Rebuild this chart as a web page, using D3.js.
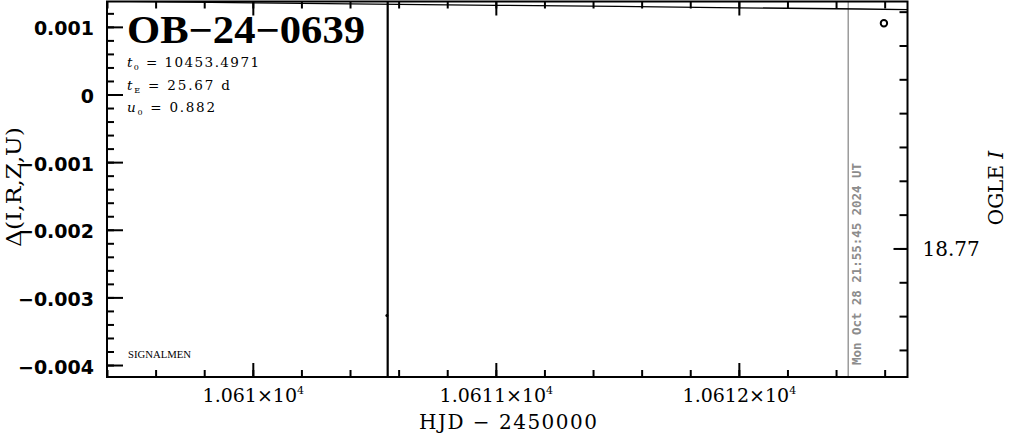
<!DOCTYPE html>
<html><head><meta charset="utf-8">
<script src="https://cdn.jsdelivr.net/npm/d3@7"></script>
<style>body{margin:0;background:#fff}svg{display:block;background:#fff}</style>
</head><body><svg id="c" width="1011" height="434"></svg>
<script>
// ---- data ----
const eventName = "OB\u221224\u22120639";
const paramNames = ["t", "t", "u"];
const paramSubs = ["0", "E", "0"];
const paramValues = ["10453.4971", "25.67 d", "0.882"];
const xMajorTicks = [10610, 10611, 10612];
const xTickMantissa = ["1.061", "1.0611", "1.0612"];
const yLeftTicks = [0.001, 0, -0.001, -0.002, -0.003, -0.004];
const yRightMajorTicks = [18.77];
const modelHJD = [10609.40, 10610.0, 10610.5, 10611.0, 10611.5, 10612.0, 10612.5, 10612.694];
const modelDelta = [0.001380, 0.001356, 0.001335, 0.001318, 0.001303, 0.001282, 0.001264, 0.001256];
const dataHJD = [10610.555, 10612.597];
const dataDelta = [-0.003266, 0.001053];
const dataErr = [0.008, 0];
const nowHJD = 10612.45;
const nowLabel = "Mon Oct 28 21:55:45 2024 UT";

// ---- layout ----
const L = 107, R = 907.5, T = 1.5, B = 377;
const svg = d3.select("#c");
const x = d3.scaleLinear().domain([10609.40, 10612.694]).range([L, R]);
const yL = d3.scaleLinear().domain([-0.004177, 0.001375]).range([B, T]);
const yR = d3.scaleLinear().domain([18.7627, 18.7738]).range([T, B]);

svg.append("defs").append("clipPath").attr("id", "clip")
  .append("rect").attr("x", L).attr("y", T).attr("width", R - L).attr("height", B - T);

const plot = svg.append("g").attr("clip-path", "url(#clip)");

// now line
plot.append("line").attr("x1", x(nowHJD)).attr("x2", x(nowHJD)).attr("y1", T).attr("y2", B)
  .attr("stroke", "#8c8c8c").attr("stroke-width", 1.3);

// model curve
plot.append("path")
  .datum(modelHJD.map((h, i) => [h, modelDelta[i]]))
  .attr("d", d3.line().x(d => x(d[0])).y(d => yL(d[1])))
  .attr("fill", "none").attr("stroke", "#000").attr("stroke-width", 1.3);

// data
dataHJD.forEach((h, i) => {
  if (dataErr[i] > 0) {
    plot.append("line").attr("x1", x(h)).attr("x2", x(h))
      .attr("y1", yL(dataDelta[i] - dataErr[i])).attr("y2", yL(dataDelta[i] + dataErr[i]))
      .attr("stroke", "#000").attr("stroke-width", 2.2);
    plot.append("circle").attr("cx", x(h) - 0.8).attr("cy", yL(dataDelta[i])).attr("r", 1.5).attr("fill", "#000");
  } else {
    plot.append("circle").attr("cx", x(h)).attr("cy", yL(dataDelta[i])).attr("r", 3.2)
      .attr("fill", "none").attr("stroke", "#000").attr("stroke-width", 2);
  }
});

// ---- axes ----
const xMinor = d3.range(0, 17).map(i => 10609.4 + 0.2 * i);
const yLMinor = d3.range(-20, 7).map(i => i * 0.0002).filter(v => v >= -0.004177 && v <= 0.001375);
const yRMinor = d3.range(0, 11).map(i => 18.763 + 0.001 * i);

function styleAxis(g) {
  g.select(".domain").remove();
  g.selectAll(".tick line").attr("stroke", "#000").attr("stroke-width", 2);
}
// bottom
svg.append("g").attr("transform", `translate(0,${B})`)
  .call(d3.axisBottom(x).tickValues(xMinor).tickSize(-7).tickFormat("")).call(styleAxis);
const xb = svg.append("g").attr("transform", `translate(0,${B})`)
  .call(d3.axisBottom(x).tickValues(xMajorTicks).tickSize(-14).tickPadding(10)).call(styleAxis);
xb.selectAll(".tick text").each(function (d, i) {
  const t = d3.select(this);
  t.text(null).attr("font-family", "DejaVu Serif").attr("font-size", 19).attr("fill", "#000")
    .attr("y", 25).attr("dy", null);
  t.append("tspan").text(xTickMantissa[i] + "\u00d710");
  t.append("tspan").text("4").attr("font-size", 11).attr("dy", -8);
});
// top
svg.append("g").attr("transform", `translate(0,${T})`)
  .call(d3.axisTop(x).tickValues(xMinor).tickSize(-7).tickFormat("")).call(styleAxis);
svg.append("g").attr("transform", `translate(0,${T})`)
  .call(d3.axisTop(x).tickValues(xMajorTicks).tickSize(-14).tickFormat("")).call(styleAxis);
// left
svg.append("g").attr("transform", `translate(${L},0)`)
  .call(d3.axisLeft(yL).tickValues(yLMinor).tickSize(-7).tickFormat("")).call(styleAxis);
const yl = svg.append("g").attr("transform", `translate(${L},0)`)
  .call(d3.axisLeft(yL).tickValues(yLeftTicks).tickSize(-16).tickPadding(13)
    .tickFormat(d3.format(".3~f"))).call(styleAxis);
yl.selectAll(".tick text").attr("font-family", "DejaVu Sans").attr("font-weight", "bold")
  .attr("font-size", 19).attr("fill", "#000").attr("dy", "0.42em");
// right
svg.append("g").attr("transform", `translate(${R},0)`)
  .call(d3.axisRight(yR).tickValues(yRMinor).tickSize(-8).tickFormat("")).call(styleAxis);
const yr = svg.append("g").attr("transform", `translate(${R},0)`)
  .call(d3.axisRight(yR).tickValues(yRightMajorTicks).tickSize(-14).tickPadding(15)
    .tickFormat(d3.format(".2f"))).call(styleAxis);
yr.selectAll(".tick text").attr("font-family", "DejaVu Serif").attr("font-size", 20)
  .attr("fill", "#000").attr("dy", "0.36em");

// frame
svg.append("rect").attr("x", L).attr("y", T).attr("width", R - L).attr("height", B - T)
  .attr("fill", "none").attr("stroke", "#000").attr("stroke-width", 2);

// ---- texts ----
svg.append("text").attr("x", 127).attr("y", 43).text(eventName)
  .attr("font-family", "Liberation Serif").attr("font-weight", "bold").attr("font-size", 39)
  .attr("textLength", 238).attr("lengthAdjust", "spacingAndGlyphs");

const paramY = [66.5, 89.5, 111.5];
const paramLen = [132, 103, 88];
paramNames.forEach((n, i) => {
  const t = svg.append("text").attr("x", 127).attr("y", paramY[i])
    .attr("font-family", "DejaVu Serif").attr("font-size", 13.5).attr("fill", "#000")
    .attr("textLength", paramLen[i]).attr("lengthAdjust", "spacing");
  t.append("tspan").text(n).attr("font-style", "italic");
  t.append("tspan").text(paramSubs[i]).attr("font-size", 8).attr("dy", 3);
  t.append("tspan").text(" = " + paramValues[i]).attr("dy", -3);
});

svg.append("text").attr("x", 128).attr("y", 358).text("SIGNALMEN")
  .attr("font-family", "Liberation Serif").attr("font-size", 10)
  .attr("textLength", 63).attr("lengthAdjust", "spacingAndGlyphs");

svg.append("text").attr("transform", `translate(${x(nowHJD) + 13},365) rotate(-90)`)
  .text(nowLabel).attr("font-family", "DejaVu Sans Mono").attr("font-weight", "bold")
  .attr("font-size", 12).attr("fill", "#8c8c8c")
  .attr("textLength", 202).attr("lengthAdjust", "spacingAndGlyphs");

svg.append("text").attr("transform", "translate(21,187) rotate(-90)")
  .attr("text-anchor", "middle").text("\u0394(I,R,Z,U)")
  .attr("font-family", "DejaVu Serif").attr("font-size", 21)
  .attr("textLength", 120).attr("lengthAdjust", "spacingAndGlyphs");

const og = svg.append("text").attr("transform", "translate(1003,188) rotate(-90)")
  .attr("text-anchor", "middle").attr("font-family", "DejaVu Serif").attr("font-size", 20);
og.append("tspan").text("OGLE ");
og.append("tspan").text("I").attr("font-style", "italic");

svg.append("text").attr("x", 508).attr("y", 429).attr("text-anchor", "middle")
  .text("HJD \u2212 2450000").attr("font-family", "DejaVu Serif").attr("font-size", 20)
  .attr("textLength", 178).attr("lengthAdjust", "spacing");
</script></body></html>
